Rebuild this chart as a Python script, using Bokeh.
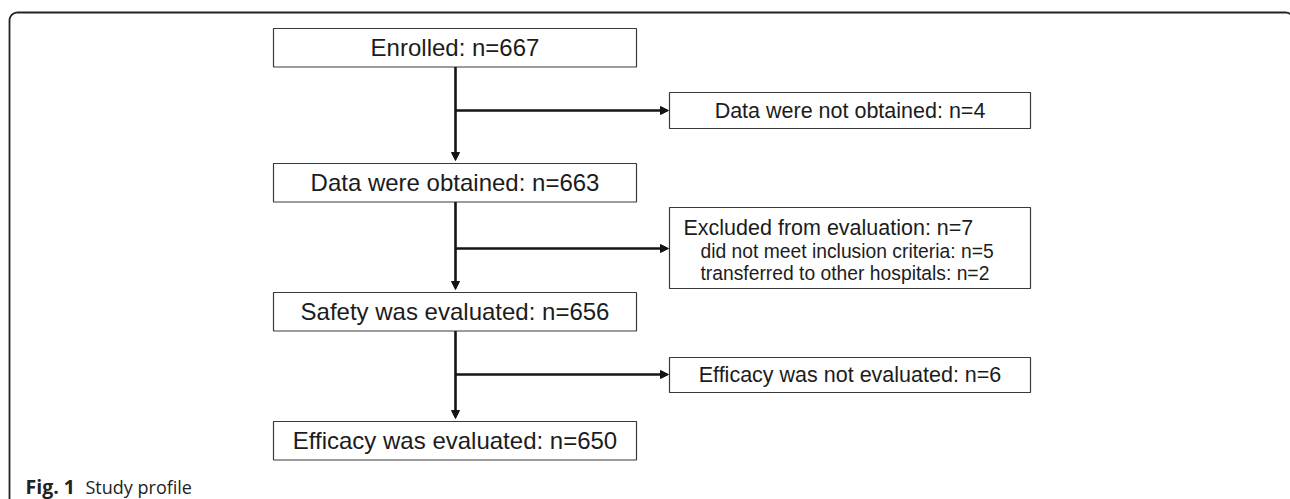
import numpy as np
from bokeh.plotting import figure
from bokeh.models import Range1d, Arrow, NormalHead, ColumnDataSource
from bokeh.core.properties import value
from bokeh.embed import file_html
from bokeh.resources import INLINE

# ---------------- data ----------------
main_labels = ["Enrolled", "Data were obtained", "Safety was evaluated", "Efficacy was evaluated"]
main_counts = [667, 663, 656, 650]
side_labels = ["Data were not obtained", "Excluded from evaluation", "Efficacy was not evaluated"]
side_counts = [4, 7, 6]
excluded_reasons = ["did not meet inclusion criteria", "transferred to other hospitals"]
excluded_counts = [5, 2]
caption_bold = "Fig. 1"
caption_text = "Study profile"

# ---------------- layout (page pixels) ----------------
W, H = 1290, 499
main_left, main_right = 273, 636
main_tops = [28, 163, 292, 421]
main_h = 38.5
side_left, side_right = 669, 1030
side_tops = [92, 207, 357]
side_bottoms = [128, 288, 392]
spine_x = 455
branch_y = [110, 248, 374]

FONT = value("Liberation Sans")
INK = "#1c1c1c"
BOX_LINE = "#3a3a3a"

p = figure(width=W, height=H, output_backend="svg", toolbar_location=None,
           x_range=Range1d(0, W), y_range=Range1d(H, 0),
           x_axis_location=None, y_axis_location=None,
           min_border=0, min_border_left=0, min_border_right=0,
           min_border_top=0, min_border_bottom=0,
           background_fill_color="white", border_fill_color="white")
p.outline_line_color = None
p.grid.visible = False

# outer rounded frame
r = 8
fl, ft, fr, fb = 9, 12, 1293, 520
t1 = np.linspace(np.pi, 1.5 * np.pi, 12)
t2 = np.linspace(1.5 * np.pi, 2 * np.pi, 12)
fx = np.concatenate([[fl], fl + r + r * np.cos(t1), fr - r + r * np.cos(t2), [fr]])
fy = np.concatenate([[fb], ft + r + r * np.sin(t1), ft + r + r * np.sin(t2), [fb]])
p.line(fx, fy, line_color="#222222", line_width=1.8)

# main boxes
main_bottoms = [t + main_h for t in main_tops]
p.quad(left=[main_left] * 4, right=[main_right] * 4, top=main_tops, bottom=main_bottoms,
       fill_color="white", line_color=BOX_LINE, line_width=1.2)
# side boxes
p.quad(left=[side_left] * 3, right=[side_right] * 3, top=side_tops, bottom=side_bottoms,
       fill_color="white", line_color=BOX_LINE, line_width=1.2)

# main texts (centred)
main_fs = 24
main_text = [f"{l}: n={c}" for l, c in zip(main_labels, main_counts)]
main_cx = [(main_left + main_right) / 2] * 4
main_mid = [(t + b) / 2 for t, b in zip(main_tops, main_bottoms)]
p.text(x=main_cx, y=main_mid, text=main_text, text_align="center", text_baseline="middle",
       text_font=FONT, text_font_size=f"{main_fs}px", text_color=INK)

# side texts
side_fs = 21.5
side_cx = (side_left + side_right) / 2
p.text(x=[side_cx, side_cx],
       y=[(side_tops[0] + side_bottoms[0]) / 2, (side_tops[2] + side_bottoms[2]) / 2],
       text=[f"{side_labels[0]}: n={side_counts[0]}", f"{side_labels[2]}: n={side_counts[2]}"],
       text_align="center", text_baseline="middle",
       text_font=FONT, text_font_size=f"{side_fs}px", text_color=INK)
p.text(x=[683], y=[227], text=[f"{side_labels[1]}: n={side_counts[1]}"],
       text_align="left", text_baseline="middle",
       text_font=FONT, text_font_size=f"{side_fs}px", text_color=INK)
p.text(x=[700, 700], y=[251, 273],
       text=[f"{l}: n={c}" for l, c in zip(excluded_reasons, excluded_counts)],
       text_align="left", text_baseline="middle",
       text_font=FONT, text_font_size="19.3px", text_color=INK)

# arrows
xs, ys, xe, ye = [], [], [], []
for i in range(3):
    xs.append(spine_x); ys.append(main_bottoms[i]); xe.append(spine_x); ye.append(main_tops[i + 1] - 3)
    xs.append(spine_x); ys.append(branch_y[i]); xe.append(side_left - 1); ye.append(branch_y[i])
asrc = ColumnDataSource(dict(xs=xs, ys=ys, xe=xe, ye=ye))
p.add_layout(Arrow(x_start="xs", y_start="ys", x_end="xe", y_end="ye", source=asrc,
                   line_width=2.6, line_color="#141414",
                   end=NormalHead(size=8, fill_color="#141414", line_color="#141414", line_width=1)))

# caption
p.text(x=[25], y=[486], text=[caption_bold], text_align="left", text_baseline="middle",
       text_font=value("Open Sans"), text_font_style="bold", text_font_size="19.5px", text_color="#222222")
p.text(x=[85], y=[486], text=[caption_text], text_align="left", text_baseline="middle",
       text_font=value("Open Sans"), text_font_size="18px", text_color="#222222")

open("out.html", "w").write(file_html(p, INLINE))
